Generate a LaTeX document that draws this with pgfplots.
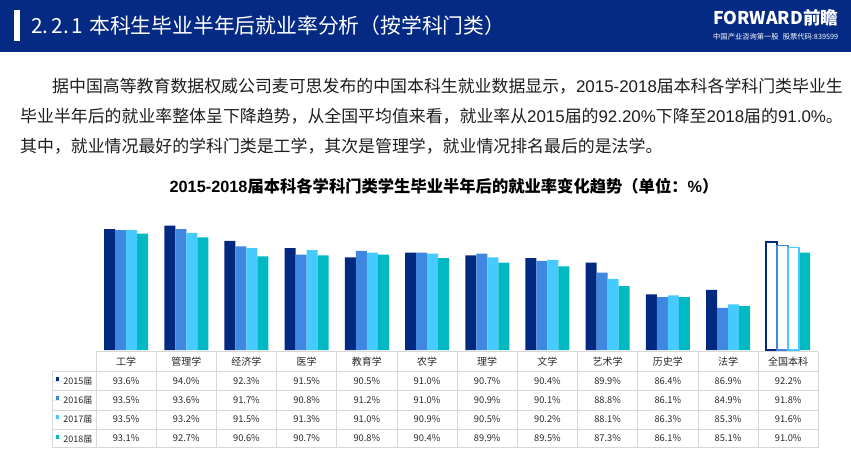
\documentclass[border=0pt]{standalone}
\usepackage{pgfplots}
\pgfplotsset{compat=1.18}
\usepackage{pgfplotstable}
\usepackage{fontspec}
\setmainfont{Noto Sans CJK SC}
\newfontfamily\arial{Liberation Sans}
\definecolor{hdr}{RGB}{4,42,132}
\definecolor{c2015}{RGB}{2,41,128}
\definecolor{c2016}{RGB}{64,135,225}
\definecolor{c2017}{RGB}{71,202,255}
\definecolor{c2018}{RGB}{0,185,194}
\definecolor{gridc}{RGB}{215,215,215}
\definecolor{txt}{RGB}{30,30,30}
\definecolor{tabtxt}{RGB}{40,40,40}

\pgfplotstableread{
idx cat y2015 y2016 y2017 y2018
0 工学 93.6 93.5 93.5 93.1
1 管理学 94.0 93.6 93.2 92.7
2 经济学 92.3 91.7 91.5 90.6
3 医学 91.5 90.8 91.3 90.7
4 教育学 90.5 91.2 91.0 90.8
5 农学 91.0 91.0 90.9 90.4
6 理学 90.7 90.9 90.5 89.9
7 文学 90.4 90.1 90.2 89.5
8 艺术学 89.9 88.8 88.1 87.3
9 历史学 86.4 86.1 86.3 86.1
10 法学 86.9 84.9 85.3 85.1
11 全国本科 92.2 91.8 91.6 91.0
}\datatable

\pgfplotsset{
  mybar/.style={ybar, bar width=11pt, draw=none,
    legend image code/.code={\path (0pt,0pt) -- (11.3pt,0pt);
      \fill[##1,draw=none] (3.5pt,0.3pt) rectangle (7.3pt,4.3pt);}},
}

\begin{document}
\begin{tikzpicture}[x=1pt,y=-1pt]
\path[use as bounding box] (0,0) rectangle (851,466);
\fill[white] (0,0) rectangle (851,466);
% header
\fill[hdr] (0,0) rectangle (851,52);
\fill[white] (14,10) rectangle (20,41);
\node[anchor=west, inner sep=0, text=white, font=\fontsize{20.8}{20.8}\selectfont] at (31,26)
  {2.\hspace{3pt}2.\hspace{3pt}1\hspace{6pt}本科生毕业半年后就业率分析（按学科门类）};
\node[anchor=west, inner sep=0, text=white] at (713,18)
  {\resizebox{125pt}{!}{\bfseries FORWARD前瞻}};
\node[anchor=west, inner sep=0, text=white] at (713,37)
  {\resizebox{125pt}{!}{\fontsize{7}{7}\selectfont 中国产业咨询第一股\hspace{4pt}股票代码:839599}};
% paragraph
\begin{scope}[every node/.style={anchor=west, inner sep=0, text=txt, font=\fontsize{16.9}{16.9}\selectfont}]
\node at (52,86) {据中国高等教育数据权威公司麦可思发布的中国本科生就业数据显示，{\arial 2015-2018}届本科各学科门类毕业生};
\node at (20,116) {毕业半年后的就业率整体呈下降趋势，从全国平均值来看，就业率从{\arial 2015}届的{\arial 92.20\%}下降至{\arial 2018}届的{\arial 91.0\%}。};
\node at (20,146) {其中，就业情况最好的学科门类是工学，其次是管理学，就业情况排名最后的是法学。};
\end{scope}
% chart title
\node[inner sep=0, text=black, font=\bfseries\fontsize{16.3}{16.3}\selectfont] at (444,186)
  {{\arial\bfseries 2015-2018}届本科各学科门类学生毕业半年后的就业率变化趋势（单位：{\arial\bfseries\%}）};

\begin{axis}[
  at={(96pt,-350pt)}, anchor=south west,
  width=722.3pt, height=142.5pt, scale only axis,
  xmin=-0.5, xmax=11.5, ymin=80.25, ymax=96,
  hide axis,
  legend style={at={(axis description cs:0,0)}, anchor=north west,
    xshift=-44pt, yshift=-21.7pt, draw=none, fill=none,
    inner sep=0pt, outer sep=0pt, row sep=0pt, column sep=0pt,
    font=\fontsize{9}{9}\selectfont, text=tabtxt,
    nodes={inner sep=0pt, outer sep=0pt, minimum height=19.2pt, text height=6.5pt, text depth=0pt}},
  legend cell align=left,
]
\addplot[mybar, bar shift=-16.5pt, fill=c2015, restrict x to domain=0:10] table[x=idx,y=y2015]{\datatable};
\addplot[mybar, bar shift=-5.5pt, fill=c2016, restrict x to domain=0:10] table[x=idx,y=y2016]{\datatable};
\addplot[mybar, bar shift=5.5pt, fill=c2017, restrict x to domain=0:10] table[x=idx,y=y2017]{\datatable};
\addplot[mybar, bar shift=16.5pt, fill=c2018] table[x=idx,y=y2018]{\datatable};
\addplot[ybar, bar width=11pt, bar shift=-16.5pt, fill=white, draw=c2015, line width=1.5pt, restrict x to domain=11:11, forget plot] table[x=idx,y=y2015]{\datatable};
\addplot[ybar, bar width=11pt, bar shift=-5.5pt, fill=white, draw=c2016, line width=1.5pt, restrict x to domain=11:11, forget plot] table[x=idx,y=y2016]{\datatable};
\addplot[ybar, bar width=11pt, bar shift=5.5pt, fill=white, draw=c2017, line width=1.5pt, restrict x to domain=11:11, forget plot] table[x=idx,y=y2017]{\datatable};
\legend{2015届,2016届,2017届,2018届}
\end{axis}

% table grid
\begin{scope}[draw=gridc, line width=0.8pt]
\foreach \i in {0,...,12} { \draw ({96+60.19*\i},351.7) -- ({96+60.19*\i},447.7); }
\draw (52,371.7) -- (52,447.7);
\draw (96,351.7) -- (818.3,351.7);
\foreach \yy in {371.7,390.7,410,429,447.7} { \draw (52,\yy) -- (818.3,\yy); }
\end{scope}
% table header
\foreach \i in {0,...,11} {
  \pgfplotstablegetelem{\i}{cat}\of\datatable
  \node[inner sep=0, text=tabtxt, font=\fontsize{10}{10}\selectfont] at ({126.1+60.19*\i},361.7) {\pgfplotsretval};
}
% table values
\foreach \col/\yy in {y2015/381.2, y2016/400.3, y2017/419.5, y2018/438.3} {
  \foreach \i in {0,...,11} {
    \pgfplotstablegetelem{\i}{\col}\of\datatable
    \node[inner sep=0, text=tabtxt, font=\fontsize{9.3}{9.3}\selectfont] at ({126.1+60.19*\i},\yy) {\pgfplotsretval\%};
  }
}
\end{tikzpicture}
\end{document}
